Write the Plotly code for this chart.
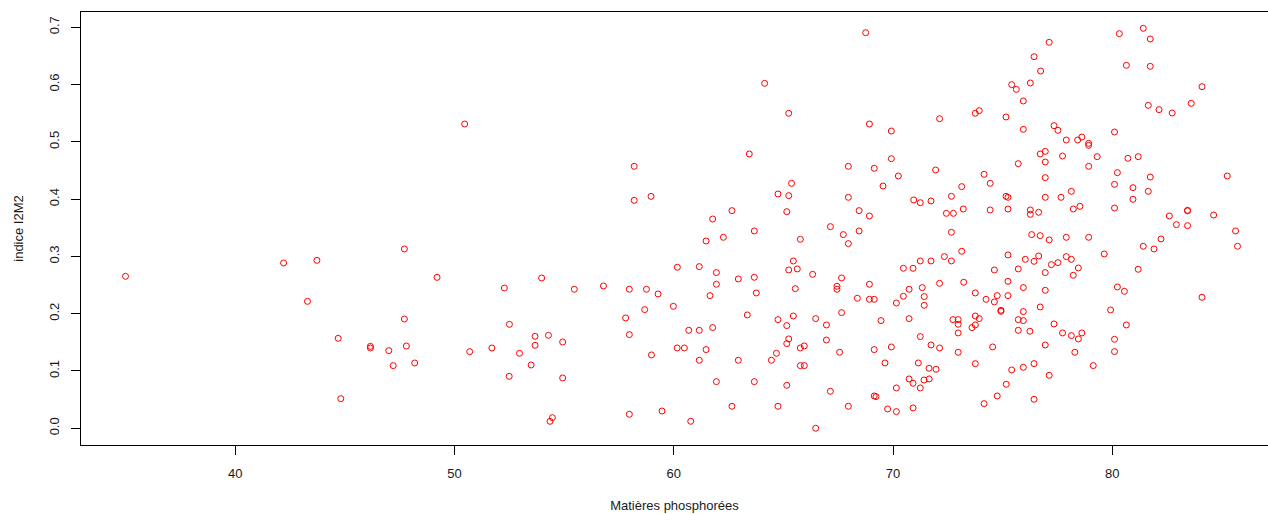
import plotly.graph_objects as go

# Matières phosphorées (x) and indice I2M2 (y) for each station
phosphorees = [
    34.99, 42.20, 43.29, 50.46, 47.71, 43.72, 49.20, 52.27, 53.97, 47.71,
    52.50, 44.69, 46.16, 46.16, 47.00, 47.80, 47.20, 48.18, 44.81, 50.69,
    51.70, 52.96, 53.67, 53.67, 54.28, 54.93, 52.49, 53.49, 54.93, 54.46,
    54.35,
    58.19, 58.19, 58.96, 62.65, 61.77,
    61.47, 62.26, 60.16, 61.16, 61.94, 62.94, 61.94, 55.46, 56.79, 57.97,
    58.75, 59.28, 61.65, 58.67, 59.98, 57.80, 57.97, 60.68, 61.16, 61.77,
    60.15, 60.48, 61.47, 58.98, 61.16, 62.94, 61.94, 62.65, 57.97, 59.46,
    60.77,
    68.75, 64.14, 65.24, 68.92, 69.92, 63.44, 67.96, 69.14, 69.92, 70.24,
    69.54, 65.37, 64.75, 65.24, 67.96, 65.15, 68.45, 68.92, 67.14,
    63.67, 67.73, 68.45, 65.77, 67.96, 65.45, 65.24, 65.63, 66.33, 63.67,
    67.65, 65.54, 67.44, 67.44, 68.92, 63.76, 68.37, 68.92, 69.14, 70.47,
    70.91, 70.73, 70.47, 70.15, 63.35, 65.45, 64.75, 65.15, 66.47, 66.96,
    67.65, 69.45, 70.73, 65.24, 65.15, 65.77, 65.95, 64.68, 64.45, 66.96,
    67.56, 69.14, 69.92, 69.63, 65.77, 65.95, 63.67, 65.15, 67.14, 69.14,
    69.22, 70.73, 70.91, 70.15, 64.75, 67.96, 69.75, 70.15, 70.91, 66.47,
    77.12, 76.43, 76.73, 75.41, 75.62, 76.26, 75.94, 73.75, 73.93, 72.12,
    75.15, 75.94, 77.34, 77.52, 77.90, 78.42, 78.61, 76.71, 76.94, 76.94,
    77.73, 75.71, 71.94, 74.15, 74.43, 73.13, 76.94, 72.66, 70.94, 71.24,
    71.73, 75.15, 75.24, 76.94, 77.66, 78.13, 72.43, 72.75, 73.20, 74.43,
    75.24, 76.26, 76.26, 76.64, 78.22, 78.52,
    72.66, 76.32, 76.71, 77.12, 77.90, 73.13, 72.34, 72.66, 71.24, 71.73,
    75.24, 76.03, 76.43, 76.64, 77.90, 78.13, 74.62, 75.71, 77.22, 77.52,
    76.94, 78.45, 78.22, 72.12, 73.22, 75.24, 71.33, 75.94, 76.94, 71.42,
    71.42, 73.75, 74.24, 74.75, 74.62, 75.24, 74.92, 74.92, 75.94, 76.71,
    72.73, 72.97, 72.97, 73.75, 73.93, 73.75, 73.60, 75.71, 75.94, 75.71,
    76.24, 77.34, 77.73, 78.13, 78.45, 78.61, 72.97, 71.24, 71.73, 72.12,
    72.97, 74.54, 76.94, 78.29, 71.15, 71.64, 71.96, 73.75, 75.41, 75.94,
    76.43, 77.12, 71.41, 71.65, 71.24, 75.16, 74.75, 74.15, 76.43,
    81.41, 80.32, 81.73, 80.64, 81.73, 84.09, 83.60, 81.64, 82.13, 82.73,
    80.10, 78.92, 78.92, 79.31, 80.71, 81.18, 78.92, 80.23, 81.73, 85.24,
    80.10, 80.94, 81.64, 80.94, 80.10, 83.43, 83.43, 82.60, 84.62, 82.92,
    83.43,
    85.62, 85.71, 78.92, 82.22, 81.41, 81.90, 79.63, 81.18, 80.23, 80.55,
    84.09, 79.92, 80.64, 80.10, 80.10, 79.13,
]

i2m2 = [
    0.2652, 0.2885, 0.2215, 0.5310, 0.3129, 0.2931, 0.2634, 0.2448, 0.2623, 0.1907,
    0.1814, 0.1570, 0.1430, 0.1401, 0.1355, 0.1436, 0.1093, 0.1139, 0.0517, 0.1337,
    0.1401, 0.1308, 0.1605, 0.1448, 0.1622, 0.1506, 0.0907, 0.1104, 0.0878, 0.0185,
    0.0121,
    0.4572, 0.3978, 0.4048, 0.3798, 0.3652,
    0.3269, 0.3333, 0.2810, 0.2821, 0.2717, 0.2606, 0.2513, 0.2426, 0.2484, 0.2426,
    0.2426, 0.2344, 0.2315, 0.2071, 0.2129, 0.1925, 0.1635, 0.1710, 0.1710, 0.1757,
    0.1402, 0.1402, 0.1373, 0.1280, 0.1187, 0.1187, 0.0814, 0.0384, 0.0244, 0.0302,
    0.0122,
    0.6904, 0.6020, 0.5497, 0.5310, 0.5188, 0.4787, 0.4572, 0.4537, 0.4705, 0.4403,
    0.4228, 0.4275, 0.4089, 0.4060, 0.4031, 0.3780, 0.3798, 0.3705, 0.3519,
    0.3444, 0.3380, 0.3444, 0.3298, 0.3223, 0.2920, 0.2763, 0.2781, 0.2687, 0.2635,
    0.2623, 0.2437, 0.2478, 0.2426, 0.2513, 0.2362, 0.2269, 0.2251, 0.2251, 0.2792,
    0.2792, 0.2426, 0.2304, 0.2187, 0.1978, 0.1960, 0.1896, 0.1792, 0.1914, 0.1803,
    0.2018, 0.1879, 0.1914, 0.1559, 0.1477, 0.1402, 0.1437, 0.1309, 0.1187, 0.1541,
    0.1326, 0.1373, 0.1419, 0.1140, 0.1094, 0.1094, 0.0814, 0.0750, 0.0646, 0.0564,
    0.0553, 0.0861, 0.0785, 0.0704, 0.0384, 0.0384, 0.0337, 0.0291, 0.0355, 0.0000,
    0.6736, 0.6485, 0.6235, 0.5997, 0.5915, 0.6026, 0.5712, 0.5497, 0.5543, 0.5403,
    0.5433, 0.5217, 0.5281, 0.5200, 0.5031, 0.5031, 0.5083, 0.4787, 0.4833, 0.4647,
    0.4752, 0.4618, 0.4508, 0.4432, 0.4275, 0.4217, 0.4374, 0.4048, 0.3984, 0.3937,
    0.3967, 0.4048, 0.4031, 0.4031, 0.4031, 0.4135, 0.3751, 0.3751, 0.3827, 0.3810,
    0.3827, 0.3810, 0.3734, 0.3769, 0.3827, 0.3873,
    0.3420, 0.3380, 0.3362, 0.3287, 0.3333, 0.3089, 0.2996, 0.2920, 0.2920, 0.2920,
    0.3025, 0.2949, 0.2914, 0.3007, 0.2996, 0.2949, 0.2763, 0.2781, 0.2856, 0.2891,
    0.2717, 0.2798, 0.2670, 0.2530, 0.2548, 0.2565, 0.2455, 0.2455, 0.2408, 0.2298,
    0.2146, 0.2362, 0.2251, 0.2315, 0.2205, 0.2315, 0.2059, 0.2042, 0.2036, 0.2117,
    0.1896, 0.1896, 0.1815, 0.1960, 0.1914, 0.1803, 0.1757, 0.1896, 0.1879, 0.1710,
    0.1693, 0.1821, 0.1664, 0.1617, 0.1559, 0.1664, 0.1664, 0.1600, 0.1454, 0.1402,
    0.1326, 0.1419, 0.1454, 0.1326, 0.1140, 0.1047, 0.1030, 0.1128, 0.1018, 0.1064,
    0.1128, 0.0925, 0.0843, 0.0861, 0.0704, 0.0768, 0.0564, 0.0430, 0.0506,
    0.6980, 0.6887, 0.6794, 0.6334, 0.6317, 0.5962, 0.5671, 0.5636, 0.5561, 0.5502,
    0.5171, 0.4973, 0.4938, 0.4740, 0.4711, 0.4740, 0.4572, 0.4461, 0.4385, 0.4403,
    0.4257, 0.4199, 0.4135, 0.3996, 0.3844, 0.3804, 0.3795, 0.3705, 0.3722, 0.3554,
    0.3536,
    0.3444, 0.3176, 0.3333, 0.3304, 0.3176, 0.3130, 0.3042, 0.2775, 0.2466, 0.2391,
    0.2286, 0.2065, 0.1803, 0.1553, 0.1338, 0.1094,
]

x_ticks = [40, 50, 60, 70, 80]
y_ticks = [0.0, 0.1, 0.2, 0.3, 0.4, 0.5, 0.6, 0.7]
y_tick_labels = ["0.0", "0.1", "0.2", "0.3", "0.4", "0.5", "0.6", "0.7"]

font_family = "Liberation Sans, Arial, sans-serif"
text_color = "#1a1a1a"

fig = go.Figure(
    go.Scatter(
        x=phosphorees,
        y=i2m2,
        mode="markers",
        marker=dict(symbol="circle-open", size=6, color="#ff0000",
                    line=dict(width=1, color="#ff0000")),
        hoverinfo="x+y",
    )
)

fig.update_layout(
    width=1268,
    height=514,
    margin=dict(l=81, r=0, t=12, b=69, autoexpand=False),
    paper_bgcolor="white",
    plot_bgcolor="white",
    showlegend=False,
    font=dict(family=font_family, size=13, color=text_color),
    xaxis=dict(
        range=[32.96, 87.10],
        tickmode="array",
        tickvals=x_ticks,
        ticks="outside",
        ticklen=9,
        tickwidth=1,
        tickcolor="#000000",
        tickfont=dict(family=font_family, size=13, color=text_color),
        showline=True,
        linecolor="#000000",
        linewidth=1,
        mirror=True,
        showgrid=False,
        zeroline=False,
        ticklabelstandoff=7,
        automargin=False,
        title=dict(text="Matières phosphorées", standoff=21,
                   font=dict(family=font_family, size=13, color=text_color)),
    ),
    yaxis=dict(
        range=[-0.0292, 0.7265],
        tickmode="array",
        tickvals=y_ticks,
        ticktext=y_tick_labels,
        tickangle=-90,
        ticks="outside",
        ticklen=9,
        tickwidth=1,
        tickcolor="#000000",
        tickfont=dict(family=font_family, size=13, color=text_color),
        showline=True,
        linecolor="#000000",
        linewidth=1,
        mirror=False,
        showgrid=False,
        zeroline=False,
        ticklabelstandoff=7,
        automargin=False,
        title=dict(text="indice I2M2", standoff=20,
                   font=dict(family=font_family, size=13, color=text_color)),
    ),
)

fig.write_html("out.html")
